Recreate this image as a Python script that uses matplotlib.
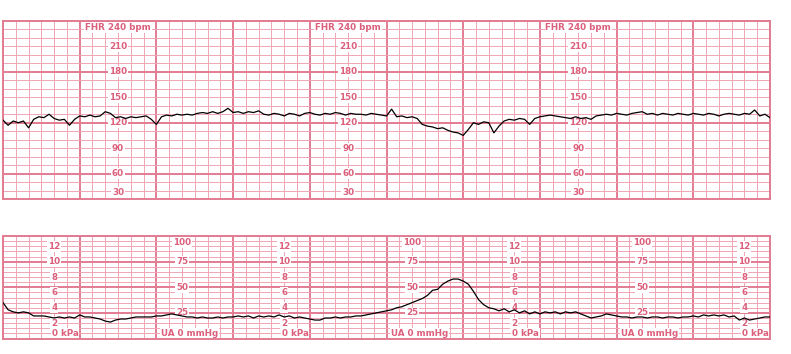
import matplotlib.pyplot as plt
import numpy as np

# FHR trace (bpm), one reading every 4 s over 10 minutes
fhr = [123, 117, 122, 120, 122, 114, 124, 127, 126, 130,
       125, 123, 124, 117, 124, 128, 127, 129, 127, 128,
       133, 131, 126, 127, 125, 127, 126, 127, 128, 124,
       118, 127, 129, 128, 130, 129, 130, 129, 131, 132,
       131, 133, 131, 133, 137, 132, 133, 131, 133, 132,
       134, 130, 129, 131, 130, 128, 131, 130, 128, 131,
       132, 130, 129, 131, 130, 132, 131, 129, 131, 130,
       130, 129, 131, 130, 129, 128, 136, 127, 128, 126,
       127, 125, 118, 116, 115, 113, 114, 111, 109, 108,
       105, 112, 120, 118, 121, 120, 108, 116, 122, 124,
       123, 125, 124, 118, 125, 127, 128, 129, 128, 127,
       126, 125, 127, 125, 126, 124, 128, 129, 130, 129,
       131, 130, 129, 131, 132, 133, 130, 131, 129, 131,
       130, 129, 131, 130, 129, 131, 130, 129, 131, 130,
       128, 130, 131, 130, 129, 131, 130, 135, 128, 130,
       126]

# uterine activity (mmHg), same sampling
ua = [35, 28, 26, 25, 26, 25, 22, 22, 22, 21,
      20, 21, 20, 21, 20, 23, 21, 21, 20, 19,
      17, 16, 18, 19, 19, 20, 21, 21, 21, 21,
      22, 22, 23, 24, 23, 22, 21, 21, 20, 21,
      20, 20, 21, 20, 21, 21, 22, 21, 22, 20,
      22, 21, 22, 21, 23, 21, 22, 20, 21, 20,
      19, 18, 18, 20, 20, 21, 20, 21, 21, 22,
      22, 23, 24, 25, 26, 27, 28, 30, 31, 33,
      35, 37, 39, 42, 47, 48, 53, 56, 58, 58,
      56, 53, 46, 38, 33, 30, 29, 27, 29, 26,
      28, 25, 27, 24, 26, 24, 26, 25, 26, 24,
      26, 25, 26, 24, 22, 20, 21, 22, 24, 23,
      22, 21, 21, 20, 21, 21, 20, 21, 21, 20,
      21, 21, 20, 21, 21, 22, 21, 23, 22, 23,
      22, 23, 21, 22, 18, 20, 18, 19, 20, 21,
      21]

fhr_ticks = [210, 180, 150, 120, 90, 60]
ua_ticks = [75, 50, 25]
kpa_ticks = [12, 10, 8, 6, 4, 2]
fhr_label_x = [90, 270, 450]
ua_label_x = [140, 320, 500]
kpa_label_x = [40, 220, 400, 580]

t = np.arange(len(fhr)) * 4

thin = "#f0a6b4"
thick = "#e27c92"
txt = "#dc5f7b"

fig = plt.figure(figsize=(7.91, 3.54), dpi=100)
ax1 = fig.add_axes([3 / 791, 1 - 199 / 354, 767 / 791, 178 / 354])
ax2 = fig.add_axes([3 / 791, 1 - 338.5 / 354, 767 / 791, 102.5 / 354])


def paper(ax, ymin, ymax, ystep, ymajor):
    ax.set_xlim(0, 600)
    ax.set_ylim(ymin, ymax)
    for x in np.arange(0, 601, 10):
        ax.axvline(x, color=thick if x % 60 == 0 else thin,
                   lw=1.4 if x % 60 == 0 else 0.7, zorder=0)
    for y in np.arange(ymin, ymax + 1, ystep):
        ax.axhline(y, color=thick if y % ymajor == 0 else thin,
                   lw=1.4 if y % ymajor == 0 else 0.7, zorder=0)
    ax.set_xticks([])
    ax.set_yticks([])
    for s in ax.spines.values():
        s.set_color(thick)
        s.set_linewidth(1.4)


def label(ax, x, y, s, **kw):
    ax.text(x, y, s, color=txt, fontsize=6.3, family="DejaVu Sans",
            weight="bold", ha=kw.pop("ha", "center"),
            va=kw.pop("va", "center"), zorder=2,
            bbox=dict(fc="white", ec="none", pad=0.6), **kw)


paper(ax1, 30, 240, 10, 60)
for x in fhr_label_x:
    label(ax1, x, 238, "FHR 240 bpm", va="top")
    for v in fhr_ticks:
        label(ax1, x, v, str(v))
    label(ax1, x, 32, "30", va="bottom")
ax1.plot(t, fhr, color="black", lw=0.9, zorder=3)

paper(ax2, 0, 100, 5, 25)
for x in ua_label_x:
    label(ax2, x, 98, "100", va="top")
    for v in ua_ticks:
        label(ax2, x, v, str(v))
    label(ax2, x + 6, 5, "UA 0 mmHg")
for x in kpa_label_x:
    for v in kpa_ticks:
        label(ax2, x, v * 7.5, str(v))
    label(ax2, x - 2, 5, "0 kPa", ha="left")
ax2.plot(t, ua, color="black", lw=0.9, zorder=3)

fig.savefig("out.png", dpi=100, facecolor="white")
